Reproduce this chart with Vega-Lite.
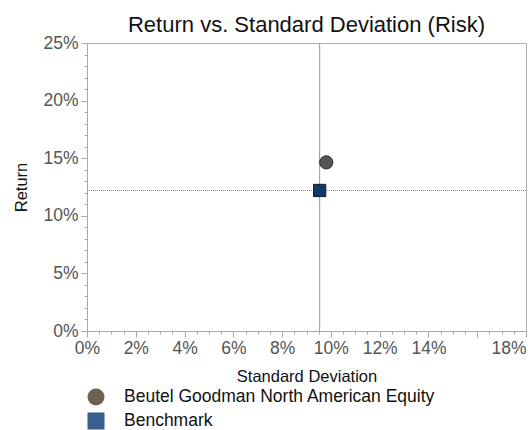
{
  "$schema": "https://vega.github.io/schema/vega-lite/v6.json",
  "width": 439,
  "height": 288,
  "autosize": "none",
  "padding": {"left": 87, "top": 43, "right": 2, "bottom": 99},
  "title": {"text": "Return vs. Standard Deviation (Risk)", "font": "Liberation Sans", "fontSize": 22, "fontWeight": "normal", "color": "#111111", "anchor": "middle", "offset": -3},
  "config": {
    "view": {"stroke": "#b0b0b0", "strokeWidth": 1},
    "axis": {"grid": false, "domainColor": "#a8a8a8", "tickColor": "#a8a8a8", "labelColor": "#555555", "labelFont": "Liberation Sans", "labelFontSize": 17.5, "titleFont": "Liberation Sans", "titleFontSize": 16.5, "titleFontWeight": "normal", "titleColor": "#111111"}
  },
  "data": {
    "values": [
      {"series": "Beutel Goodman North American Equity", "sd": 0.0981, "ret": 0.1464},
      {"series": "Benchmark", "sd": 0.0954, "ret": 0.122}
    ]
  },
  "resolve": {"axis": {"x": "independent", "y": "independent"}},
  "layer": [
    {
      "mark": {"type": "point", "opacity": 0},
      "encoding": {
        "x": {"field": "sd", "type": "quantitative", "scale": {"domain": [0, 0.18], "nice": false},
          "axis": {"orient": "bottom", "values": [0,0.005,0.01,0.015,0.02,0.025,0.03,0.035,0.04,0.045,0.05,0.055,0.06,0.065,0.07,0.075,0.08,0.085,0.09,0.095,0.1,0.105,0.11,0.115,0.12,0.125,0.13,0.135,0.14,0.145,0.15,0.155,0.16,0.165,0.17,0.175,0.18], "labels": false, "domain": false, "tickSize": 3, "title": null}},
        "y": {"field": "ret", "type": "quantitative", "scale": {"domain": [0, 0.25], "nice": false},
          "axis": {"orient": "left", "values": [0,0.01,0.02,0.03,0.04,0.05,0.06,0.07,0.08,0.09,0.1,0.11,0.12,0.13,0.14,0.15,0.16,0.17,0.18,0.19,0.2,0.21,0.22,0.23,0.24,0.25], "labels": false, "domain": false, "tickSize": 3, "title": null}}
      }
    },
    {
      "mark": {"type": "point", "opacity": 0},
      "encoding": {
        "x": {"field": "sd", "type": "quantitative",
          "axis": {"orient": "bottom", "values": [0,0.02,0.04,0.06,0.08,0.1,0.12,0.14,0.16,0.18], "format": ".0%", "labelExpr": "datum.value > 0.155 && datum.value < 0.165 ? '' : datum.label", "labelAlign": {"condition": {"test": "datum.value > 0.175", "value": "right"}, "value": "center"}, "tickSize": 6, "labelPadding": 2, "title": "Standard Deviation", "titlePadding": 12}},
        "y": {"field": "ret", "type": "quantitative",
          "axis": {"orient": "left", "values": [0,0.05,0.1,0.15,0.2,0.25], "format": ".0%", "tickSize": 6, "labelPadding": 3, "title": "Return", "titlePadding": 13}}
      }
    },
    {
      "mark": {"type": "point", "filled": true, "opacity": 1, "size": 10},
      "encoding": {
        "x": {"field": "sd", "type": "quantitative", "axis": null},
        "y": {"field": "ret", "type": "quantitative", "axis": null},
        "color": {"field": "series", "type": "nominal",
          "scale": {"domain": ["Beutel Goodman North American Equity", "Benchmark"], "range": ["#6e6150", "#3a5e8e"]},
          "legend": {"orient": "none", "legendX": 0, "legendY": 345, "title": null, "padding": 0, "symbolOpacity": 1, "symbolSize": 290, "symbolStrokeWidth": 0, "labelFont": "Liberation Sans", "labelFontSize": 17.5, "labelColor": "#111111", "labelOffset": 19, "rowPadding": 6, "labelLimit": 400}},
        "shape": {"field": "series", "type": "nominal",
          "scale": {"domain": ["Beutel Goodman North American Equity", "Benchmark"], "range": ["circle", "square"]}}
      }
    },
    {
      "transform": [{"filter": "datum.series === 'Benchmark'"}],
      "mark": {"type": "rule", "color": "#9a9a9a", "strokeWidth": 1},
      "encoding": {"x": {"field": "sd", "type": "quantitative", "axis": null}}
    },
    {
      "transform": [{"filter": "datum.series === 'Benchmark'"}],
      "mark": {"type": "rule", "color": "#8a8a8a", "strokeWidth": 1, "strokeDash": [1, 1]},
      "encoding": {"y": {"field": "ret", "type": "quantitative", "axis": null}}
    },
    {
      "transform": [{"filter": "datum.series !== 'Benchmark'"}],
      "mark": {"type": "point", "shape": "circle", "filled": true, "fill": "#555555", "stroke": "#2a2a2a", "strokeWidth": 1, "opacity": 1, "size": 175},
      "encoding": {
        "x": {"field": "sd", "type": "quantitative", "axis": null},
        "y": {"field": "ret", "type": "quantitative", "axis": null}
      }
    },
    {
      "transform": [{"filter": "datum.series === 'Benchmark'"}],
      "mark": {"type": "point", "shape": "square", "filled": true, "fill": "#0e3a6b", "stroke": "#1a1a1a", "strokeWidth": 1, "opacity": 1, "size": 150},
      "encoding": {
        "x": {"field": "sd", "type": "quantitative", "axis": null},
        "y": {"field": "ret", "type": "quantitative", "axis": null}
      }
    }
  ]
}
